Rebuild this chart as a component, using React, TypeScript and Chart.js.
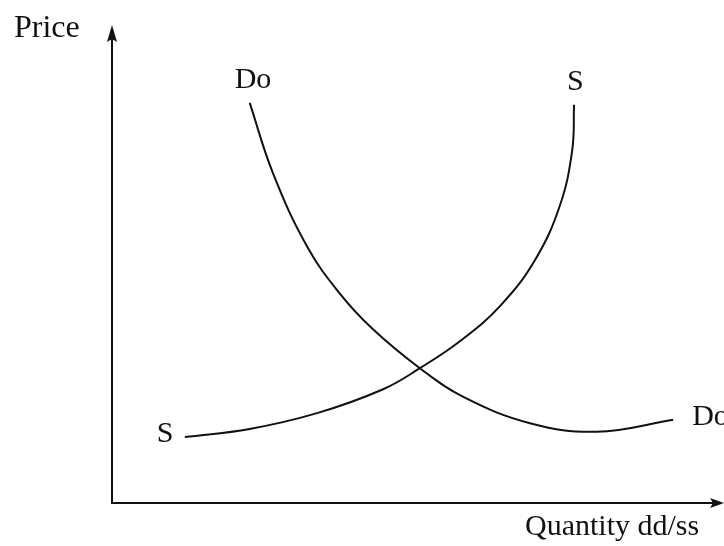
import React, { useEffect, useRef } from "react";
import { Chart, registerables } from "chart.js";

Chart.register(...registerables);

const demandQty = [22.5, 26.3, 31.9, 37.3, 42.6, 50.3, 57.4, 68.3, 79.2, 91.7];
const demandPrice = [83.7, 69.0, 53.6, 43.7, 36.4, 28.2, 22.2, 16.7, 14.9, 17.4];
const supplyQty = [11.9, 22.5, 33.5, 44.3, 50.3, 56.9, 63.4, 69.1, 73.2, 75.2, 75.5];
const supplyPrice = [13.8, 15.5, 18.8, 23.8, 28.2, 33.9, 41.2, 50.8, 62.3, 73.8, 83.3];

const yAxisTitle = "Price";
const xAxisTitle = "Quantity dd/ss";
const demandLabel = "Do";
const supplyLabel = "S";

const FONT = '"Liberation Serif", "DejaVu Serif", serif';

const axesPlugin = {
  id: "econAxes",
  afterDraw(chart: any) {
    const { ctx, scales } = chart;
    const x = scales.x;
    const y = scales.y;
    const x0 = x.getPixelForValue(0);
    const y0 = y.getPixelForValue(0);
    const xEnd = x.getPixelForValue(100);
    const yTop = y.getPixelForValue(100);
    ctx.save();
    ctx.strokeStyle = "#111";
    ctx.fillStyle = "#111";
    ctx.lineWidth = 2;
    ctx.beginPath();
    ctx.moveTo(x0, y0);
    ctx.lineTo(x0, yTop + 8);
    ctx.moveTo(x0 - 1, y0);
    ctx.lineTo(xEnd - 8, y0);
    ctx.stroke();
    // arrows
    ctx.beginPath();
    ctx.moveTo(x0, yTop);
    ctx.lineTo(x0 - 5, yTop + 17);
    ctx.lineTo(x0, yTop + 14);
    ctx.lineTo(x0 + 5, yTop + 17);
    ctx.closePath();
    ctx.fill();
    ctx.beginPath();
    ctx.moveTo(xEnd, y0);
    ctx.lineTo(xEnd - 14, y0 - 5);
    ctx.lineTo(xEnd - 11, y0);
    ctx.lineTo(xEnd - 14, y0 + 5);
    ctx.closePath();
    ctx.fill();

    ctx.textBaseline = "alphabetic";
    ctx.textAlign = "left";
    ctx.font = `32px ${FONT}`;
    ctx.fillText(yAxisTitle, 14, 37);
    ctx.font = `30px ${FONT}`;
    ctx.fillText(xAxisTitle, 525, 535);

    const px = (q: number) => x.getPixelForValue(q);
    const py = (p: number) => y.getPixelForValue(p);
    const dl = demandQty.length - 1;
    const sl = supplyQty.length - 1;
    ctx.font = `30px ${FONT}`;
    ctx.fillText(demandLabel, px(demandQty[0]) - 15, py(demandPrice[0]) - 15);
    ctx.fillText(supplyLabel, px(supplyQty[sl]) - 7, py(supplyPrice[sl]) - 15);
    ctx.fillText(supplyLabel, px(supplyQty[0]) - 28, py(supplyPrice[0]) + 5);
    ctx.fillText(demandLabel, px(demandQty[dl]) + 19, py(demandPrice[dl]) + 5);
    ctx.restore();
  },
};

export default function App() {
  const ref = useRef<HTMLCanvasElement | null>(null);
  useEffect(() => {
    if (!ref.current) return;
    const mk = (label: string, qs: number[], ps: number[]) => ({
      label,
      data: qs.map((q, i) => ({ x: q, y: ps[i] })),
      showLine: true,
      borderColor: "#111",
      borderWidth: 2,
      pointRadius: 0,
      tension: 0.4,
      fill: false,
    });
    const chart = new Chart(ref.current, {
      type: "scatter",
      data: {
        datasets: [
          mk(demandLabel, demandQty, demandPrice),
          mk(supplyLabel, supplyQty, supplyPrice),
        ],
      },
      options: {
        animation: false,
        responsive: false,
        maintainAspectRatio: false,
        layout: { padding: { left: 112, right: 0, top: 25, bottom: 43 } },
        plugins: { legend: { display: false }, tooltip: { enabled: false } },
        scales: {
          x: { type: "linear", min: 0, max: 100, display: false },
          y: { type: "linear", min: 0, max: 100, display: false },
        },
      },
      plugins: [axesPlugin],
    } as any);
    return () => chart.destroy();
  }, []);
  return (
    <div style={{ position: "absolute", left: 0, top: 0, width: 724, height: 546, background: "#fff" }}>
      <canvas ref={ref} width={724} height={546} style={{ display: "block" }} />
    </div>
  );
}
